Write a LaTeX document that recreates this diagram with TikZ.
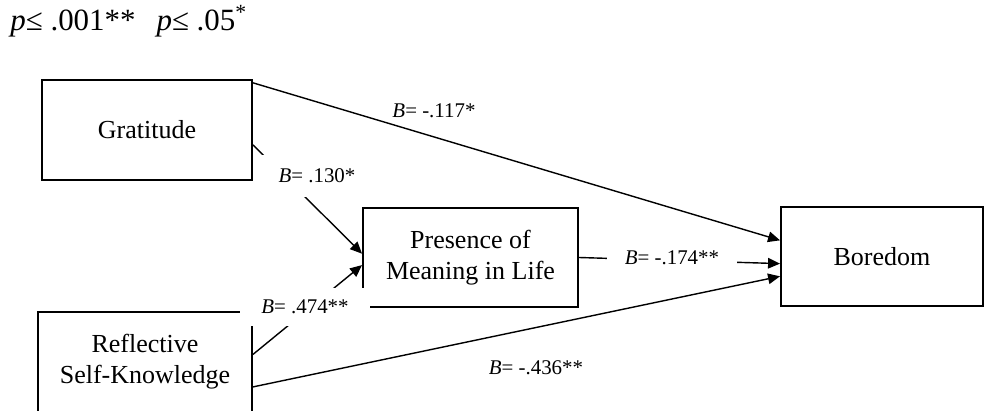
\documentclass[tikz,border=0pt]{standalone}
\usepackage{fontspec}
\setmainfont{Liberation Serif}
\usetikzlibrary{arrows.meta}

\tikzset{
	varbox/.style={draw, line width=1.1pt, minimum height=2cm, align=center,
		font=\fontsize{14.8}{17.5}\selectfont},
	coef/.style={fill=white, inner sep=0pt, font=\fontsize{11.9}{14}\selectfont},
	path/.style={line width=0.8pt, -{Triangle[length=0.24cm,width=0.21cm]}}
}

\begin{document}
\begin{tikzpicture}[x=0.02cm, y=-0.02cm]
	
	\useasboundingbox (0,0) rectangle (984,411);
	
	% Significance note
	\node[anchor=base west, inner sep=0pt, font=\fontsize{17.6}{20}\selectfont] (note) at (10,31)
	{\textit{p}≤ .001**\hspace{0.42cm}\textit{p}≤ .05\textsuperscript{*}};
	
	% Variables
	\node[varbox, minimum width=4.2cm] (grat) at (147,130) {Gratitude};
	\node[varbox, minimum width=4.28cm] (refl) at (145,362) {Reflective\\Self-Knowledge};
	\node[varbox, minimum width=4.3cm, minimum height=1.98cm] (pres) at (470.5,257.5) {Presence of\\Meaning in Life};
	\node[varbox, minimum width=4.04cm, minimum height=1.98cm] (bore) at (882,256.5) {Boredom};
	
	% Paths
	\draw[path] (grat.24) -- (bore.171);
	\draw[path] (grat.352) -- (pres.178);
	\draw[path] (refl.4) -- (pres.184);
	\draw[path] (pres.east) -- (bore.184);
	\draw[path] (refl.347) -- (bore.191);
	
	% Coefficients
	\node[coef, fill=none] (c1) at (434,111) {\textit{B}= -.117*};
	\node[coef, minimum width=2.2cm, minimum height=0.84cm] (c2) at (317,176) {\textit{B}= .130*};
	\node[coef, minimum width=2.6cm, minimum height=0.76cm] (c3) at (305,307) {\textit{B}= .474**};
	\node[coef, minimum width=2.62cm, minimum height=0.7cm] (c4) at (672,258) {\textit{B}= -.174**};
	\node[coef, fill=none] (c5) at (536,368) {\textit{B}= -.436**};
	
\end{tikzpicture}
\end{document}
